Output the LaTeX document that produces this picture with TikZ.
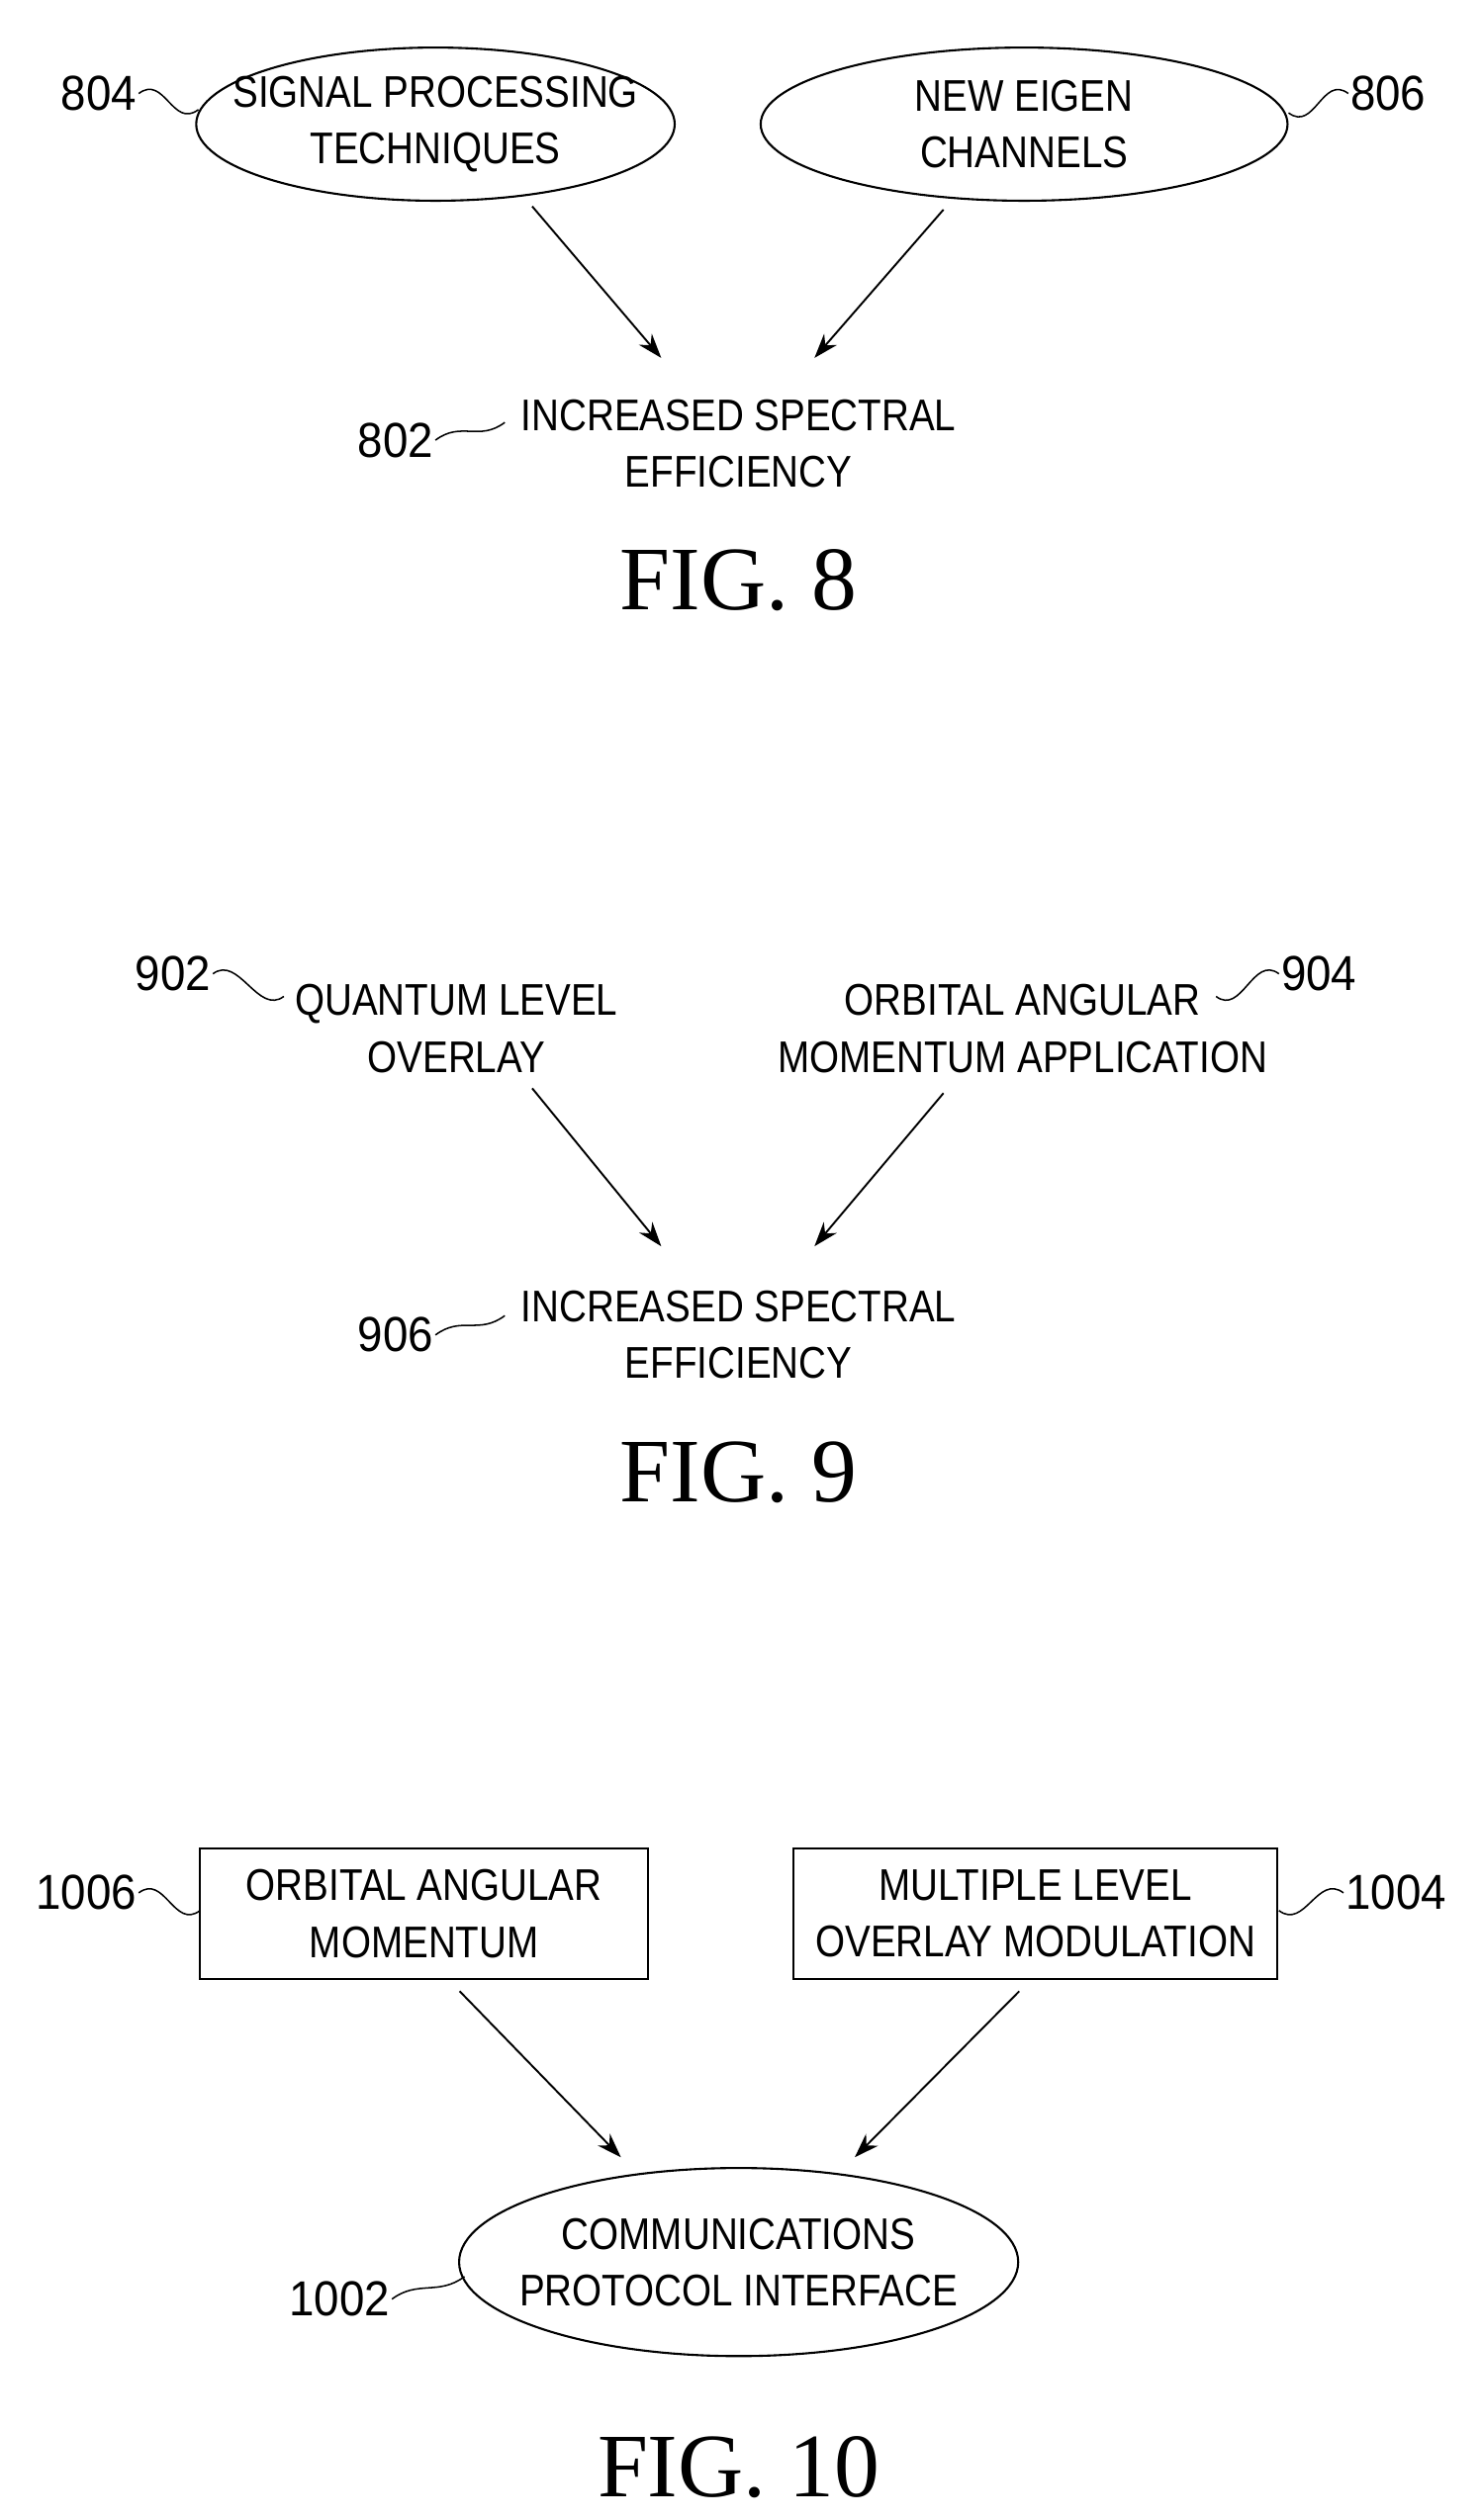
\documentclass[tikz,border=0pt]{standalone}
\usepackage{fontspec}
\setmainfont{Liberation Sans}[FakeStretch=0.86]
\newfontfamily\figfont{Liberation Serif}
\newfontfamily\labfont{Liberation Sans}[FakeStretch=0.92]
\usetikzlibrary{shapes.geometric,arrows.meta}
\begin{document}
\begin{tikzpicture}[x=0.03cm,y=-0.03cm,
  txt/.style={font=\fontsize{23.5}{30}\selectfont,align=center,inner sep=1pt},
  lab/.style={font=\labfont\fontsize{26}{30}\selectfont,inner sep=1pt},
  ell/.style={draw,line width=1.1pt,ellipse,inner sep=0pt},
  box/.style={draw,line width=1.1pt,rectangle,txt,minimum height=2.43cm},
  fig/.style={font=\figfont\fontsize{48}{52}\selectfont},
  arr/.style={-{Stealth[length=13pt,width=9pt]},line width=1pt},
  sq/.style={line width=0.8pt}]
\useasboundingbox (0,0) rectangle (918,1563);
% FIG 8
\node[ell,minimum width=8.9cm,minimum height=2.85cm] (n804) at (270,77) {};
\node[txt] (t804) at (n804) {SIGNAL PROCESSING\\TECHNIQUES};
\node[ell,minimum width=9.8cm,minimum height=2.85cm] (n806) at (635,77) {};
\node[txt] (t806) at (n806) {NEW EIGEN\\CHANNELS};
\node[txt] (n802) at (458,275) {INCREASED SPECTRAL\\EFFICIENCY};
\node[lab,anchor=east] (l804) at (86,58) {804};
\node[lab,anchor=west] (l806) at (836,58) {806};
\node[lab,anchor=east] (l802) at (270,273) {802};
\coordinate (e804) at (123,68); \coordinate (e806) at (799,70); \coordinate (e802) at (313,262);
\draw[sq] (l804.east) .. controls +(16,-12) and +(-16,12) .. (e804);
\draw[sq] (l806.west) .. controls +(-16,-12) and +(16,12) .. (e806);
\draw[sq] (l802.east) .. controls +(16,-12) and +(-16,12) .. (e802);
\draw[arr] (330,128) -- (410,222);
\draw[arr] (585,130) -- (505,222);
\node[fig] (f8) at (458,360) {FIG. 8};
% FIG 9
\node[txt] (n902) at (283,638) {QUANTUM LEVEL\\OVERLAY};
\node[txt] (n904) at (634,638) {ORBITAL ANGULAR\\MOMENTUM APPLICATION};
\node[txt] (n906) at (458,828) {INCREASED SPECTRAL\\EFFICIENCY};
\node[lab,anchor=east] (l902) at (132,604) {902};
\node[lab,anchor=west] (l904) at (793,604) {904};
\node[lab,anchor=east] (l906) at (270,828) {906};
\coordinate (e902) at (176,618); \coordinate (e904) at (754,618); \coordinate (e906) at (313,816);
\draw[sq] (l902.east) .. controls +(16,-12) and +(-16,12) .. (e902);
\draw[sq] (l904.west) .. controls +(-16,-12) and +(16,12) .. (e904);
\draw[sq] (l906.east) .. controls +(16,-12) and +(-16,12) .. (e906);
\draw[arr] (330,675) -- (410,773);
\draw[arr] (585,678) -- (505,773);
\node[fig] (f9) at (458,913) {FIG. 9};
% FIG 10
\node[box,minimum width=8.34cm] (n1006) at (263,1187) {ORBITAL ANGULAR\\MOMENTUM};
\node[box,minimum width=9.0cm] (n1004) at (642,1187) {MULTIPLE LEVEL\\OVERLAY MODULATION};
\node[ell,minimum width=10.4cm,minimum height=3.5cm] (n1002) at (458,1403) {};
\node[txt] (t1002) at (n1002) {COMMUNICATIONS\\PROTOCOL INTERFACE};
\node[lab,anchor=east] (l1006) at (86,1174) {1006};
\node[lab,anchor=west] (l1004) at (833,1174) {1004};
\node[lab,anchor=east] (l1002) at (243,1426) {1002};
\coordinate (e1006) at (124,1185); \coordinate (e1004) at (793,1185); \coordinate (e1002) at (288,1412);
\draw[sq] (l1006.east) .. controls +(16,-12) and +(-16,12) .. (e1006);
\draw[sq] (l1004.west) .. controls +(-16,-12) and +(16,12) .. (e1004);
\draw[sq] (l1002.east) .. controls +(16,-12) and +(-16,12) .. (e1002);
\draw[arr] (285,1235) -- (385,1338);
\draw[arr] (632,1235) -- (530,1338);
\node[fig] (f10) at (458,1530) {FIG. 10};
\end{tikzpicture}
\end{document}
